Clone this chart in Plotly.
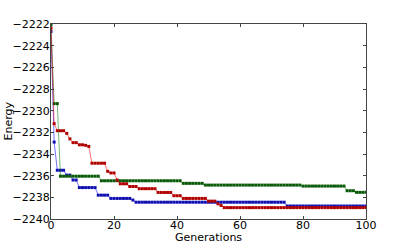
import plotly.graph_objects as go

generations = list(range(101))

blue_energy = [
    -2222.7, -2232.9, -2235.5, -2235.5, -2235.5, -2235.95, -2235.95, -2236.4, -2236.4,
    -2237.1, -2237.1, -2237.1, -2237.1, -2237.1, -2237.1,
    -2237.8, -2237.8, -2237.8, -2237.8,
    -2238.1, -2238.1, -2238.1, -2238.1, -2238.1, -2238.1, -2238.1,
    -2238.25,
    -2238.45, -2238.45, -2238.45, -2238.45, -2238.45, -2238.45, -2238.45, -2238.45,
    -2238.45, -2238.45, -2238.45, -2238.45, -2238.45, -2238.45, -2238.45, -2238.45,
    -2238.45, -2238.45, -2238.45, -2238.45, -2238.45, -2238.45, -2238.45, -2238.45,
    -2238.45, -2238.45, -2238.45, -2238.45, -2238.45, -2238.45, -2238.45, -2238.45,
    -2238.45, -2238.45, -2238.45, -2238.45, -2238.45, -2238.45, -2238.45, -2238.45,
    -2238.45, -2238.45, -2238.45, -2238.45, -2238.45, -2238.45, -2238.45, -2238.45,
    -2238.8, -2238.8, -2238.8, -2238.8, -2238.8, -2238.8, -2238.8, -2238.8, -2238.8,
    -2238.8, -2238.8, -2238.8, -2238.8, -2238.8, -2238.8, -2238.8, -2238.8, -2238.8,
    -2238.8, -2238.8, -2238.8, -2238.8, -2238.8, -2238.8, -2238.8, -2238.8,
]

green_energy = [
    -2222.1, -2229.35, -2229.35,
    -2236.05, -2236.05, -2236.05, -2236.05, -2236.05, -2236.05, -2236.05, -2236.05,
    -2236.05, -2236.05, -2236.05, -2236.05, -2236.05,
    -2236.47, -2236.47, -2236.47, -2236.47, -2236.47, -2236.47, -2236.47, -2236.47,
    -2236.47, -2236.47, -2236.47, -2236.47, -2236.47, -2236.47, -2236.47, -2236.47,
    -2236.47, -2236.47, -2236.47, -2236.47, -2236.47, -2236.47, -2236.47, -2236.47,
    -2236.47, -2236.47,
    -2236.71, -2236.71, -2236.71, -2236.71, -2236.71, -2236.71, -2236.71,
    -2236.87, -2236.87, -2236.87, -2236.87, -2236.87, -2236.87, -2236.87, -2236.87,
    -2236.87, -2236.87, -2236.87, -2236.87, -2236.87, -2236.87, -2236.87, -2236.87,
    -2236.87, -2236.87, -2236.87, -2236.87, -2236.87, -2236.87, -2236.87, -2236.87,
    -2236.87, -2236.87, -2236.87, -2236.87, -2236.87, -2236.87, -2236.87,
    -2236.96, -2236.96, -2236.96, -2236.96, -2236.96, -2236.96, -2236.96,
    -2236.96, -2236.96, -2236.96, -2236.96, -2236.96, -2236.96, -2236.96,
    -2237.39, -2237.39, -2237.39,
    -2237.54, -2237.54, -2237.54, -2237.54,
]

red_energy = [
    -2222.4, -2231.2, -2231.85, -2231.85, -2231.85, -2232.1, -2232.6,
    -2232.95, -2232.95, -2233.15, -2233.15, -2233.2, -2233.3,
    -2234.85, -2234.85, -2234.85, -2234.85, -2234.85,
    -2235.6, -2235.75, -2235.75, -2236.4,
    -2236.75, -2236.75, -2236.75,
    -2237.0, -2237.0, -2237.0,
    -2237.2, -2237.2, -2237.2, -2237.2, -2237.2, -2237.2,
    -2237.55, -2237.55, -2237.55, -2237.55, -2237.55,
    -2237.85, -2237.85, -2237.85,
    -2238.1, -2238.1, -2238.1, -2238.1, -2238.1, -2238.1, -2238.1, -2238.1,
    -2238.35, -2238.35, -2238.35, -2238.6, -2238.75,
    -2238.95, -2238.95, -2238.95, -2238.95, -2238.95, -2238.95, -2238.95, -2238.95,
    -2238.95, -2238.95, -2238.95, -2238.95, -2238.95, -2238.95, -2238.95, -2238.95,
    -2238.95, -2238.95, -2238.95, -2238.95, -2238.95, -2238.95, -2238.95, -2238.95,
    -2238.95, -2238.95, -2238.95, -2238.95, -2238.95, -2238.95, -2238.95, -2238.95,
    -2238.95, -2238.95, -2238.95, -2238.95, -2238.95, -2238.95, -2238.95, -2238.95,
    -2238.95, -2238.95, -2238.95, -2238.95, -2238.95, -2238.95,
]

x_ticks = [0, 20, 40, 60, 80, 100]
y_ticks = [-2240, -2238, -2236, -2234, -2232, -2230, -2228, -2226, -2224, -2222]

series = [
    (blue_energy, "rgba(0,0,255,0.55)", "#1010b0"),
    (green_energy, "rgba(0,128,0,0.55)", "#0a5a0a"),
    (red_energy, "rgba(255,0,0,0.55)", "#b00000"),
]

fig = go.Figure()
for values, line_color, marker_color in series:
    fig.add_trace(go.Scatter(
        x=generations, y=values, mode="lines+markers",
        line=dict(color=line_color, width=1),
        marker=dict(symbol="square", size=3, color=marker_color, line=dict(width=0)),
        showlegend=False,
    ))

axis_common = dict(
    showgrid=False, zeroline=False, showline=True, linecolor="#444", linewidth=1,
    mirror="ticks", ticks="inside", ticklen=3, tickcolor="#444",
    tickfont=dict(family="DejaVu Sans", size=11, color="black"),
)

fig.update_layout(
    width=407, height=244,
    margin=dict(l=51, r=41, t=24, b=25),
    paper_bgcolor="white", plot_bgcolor="white",
    font=dict(family="DejaVu Sans", size=11, color="black"),
    xaxis=dict(range=[0, 100], tickvals=x_ticks, automargin=False,
               ticklabelstandoff=-4, **axis_common),
    yaxis=dict(range=[-2240, -2222], tickvals=y_ticks, automargin=False,
               ticklabelstandoff=-2, tickformat="d", **axis_common),
    annotations=[
        dict(text="Generations", xref="paper", yref="paper", x=0.5, y=0,
             xanchor="center", yanchor="middle", yshift=-18, showarrow=False,
             font=dict(family="DejaVu Sans", size=11, color="black")),
        dict(text="Energy", xref="paper", yref="paper", x=0, y=0.5,
             xanchor="center", yanchor="middle", xshift=-43, textangle=-90,
             showarrow=False,
             font=dict(family="DejaVu Sans", size=11, color="black")),
    ],
)

fig.write_html(
    "out.html",
    config={"displayModeBar": False},
    post_script="document.body.style.margin='0';document.body.style.padding='0';",
)
